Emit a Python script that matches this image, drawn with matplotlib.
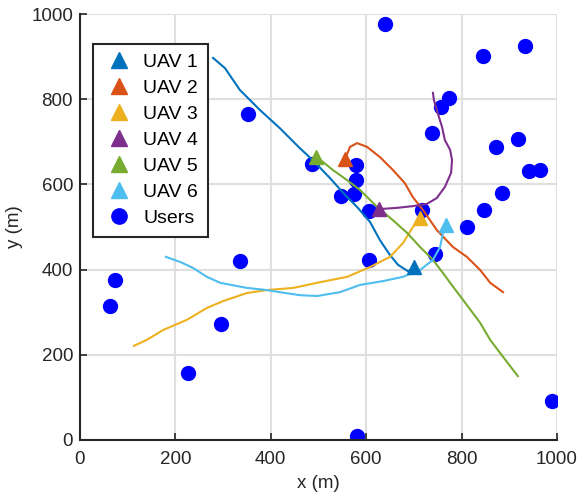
import matplotlib.pyplot as plt

plt.rcParams['font.family'] = ['Liberation Sans', 'DejaVu Sans']

# user positions (m)
users_x = [639, 933, 845, 774, 757, 739, 873, 918, 942, 965, 884, 846, 812, 716, 605,
           579, 579, 574, 548, 487, 605, 745, 353, 336, 74, 62, 295, 227, 581, 989]
users_y = [977, 925, 901, 803, 782, 721, 688, 706, 631, 635, 580, 540, 501, 541, 538,
           646, 610, 577, 573, 649, 422, 437, 765, 420, 375, 315, 272, 157, 9, 92]

# UAV trajectories, last point = final position
uav1_x = [279, 304, 335, 377, 419, 461, 488, 524, 556, 581, 608, 629, 650, 667, 688, 700]
uav1_y = [897, 873, 822, 775, 732, 685, 657, 615, 575, 547, 512, 469, 434, 411, 396, 405]

uav2_x = [887, 860, 839, 811, 782, 748, 719, 698, 681, 656, 629, 602, 581, 566, 556]
uav2_y = [347, 369, 399, 430, 453, 493, 540, 570, 603, 634, 664, 688, 697, 688, 660]

uav3_x = [113, 140, 174, 224, 266, 300, 350, 392, 447, 497, 560, 608, 650, 677, 698, 713]
uav3_y = [221, 235, 258, 282, 310, 326, 345, 352, 357, 369, 383, 406, 430, 462, 500, 521]

uav4_x = [740, 742, 748, 759, 765, 776, 780, 778, 765, 748, 727, 698, 665, 627]
uav4_y = [815, 798, 775, 735, 704, 681, 657, 627, 594, 568, 554, 549, 545, 542]

uav5_x = [918, 887, 860, 839, 803, 776, 761, 740, 713, 686, 656, 623, 587, 560, 530, 509, 495]
uav5_y = [150, 195, 235, 275, 329, 369, 392, 423, 453, 486, 516, 547, 587, 610, 634, 653, 664]

uav6_x = [180, 210, 237, 266, 294, 350, 392, 419, 461, 497, 545, 587, 635, 677, 713, 740, 755, 761, 767]
uav6_y = [430, 418, 404, 383, 369, 357, 352, 347, 340, 338, 347, 364, 373, 383, 399, 423, 453, 486, 505]

uav_x = [uav1_x, uav2_x, uav3_x, uav4_x, uav5_x, uav6_x]
uav_y = [uav1_y, uav2_y, uav3_y, uav4_y, uav5_y, uav6_y]
colors = ['#0072BD', '#D95319', '#EDB120', '#7E2F8E', '#77AC30', '#4DBEEE']

fig = plt.figure(figsize=(5.77, 4.92), dpi=100)
ax = fig.add_axes([0.1386, 0.1057, 0.8267, 0.8658])

handles = []
for i in range(6):
    ax.plot(uav_x[i], uav_y[i], color=colors[i], lw=1.5, zorder=3)
    h, = ax.plot(uav_x[i][-1], uav_y[i][-1], '^', color=colors[i], ms=10,
                 label='UAV %d' % (i + 1), zorder=4)
    handles.append(h)
hu, = ax.plot(users_x, users_y, 'o', color='#0000FF', ms=10, ls='none',
              label='Users', zorder=2)
handles.append(hu)

ax.set_xlim(0, 1000)
ax.set_ylim(0, 1000)
ax.set_xticks(range(0, 1001, 200))
ax.set_yticks(range(0, 1001, 200))
ax.grid(True, color='#DFDFDF', lw=1.5)
ax.set_axisbelow(True)
for s in ['top', 'right']:
    ax.spines[s].set_visible(False)
for s in ['left', 'bottom']:
    ax.spines[s].set_color('#262626')
    ax.spines[s].set_linewidth(1.5)
ax.tick_params(direction='in', length=5, width=1.2, colors='#262626',
               labelsize=13.5, top=False, right=False)
ax.tick_params(axis='x', pad=8)
ax.tick_params(axis='y', pad=5)
ax.set_xlabel('x (m)', fontsize=13.5, color='#262626', labelpad=5)
ax.set_ylabel('y (m)', fontsize=13.5, color='#262626', labelpad=6)

leg = ax.legend(handles=handles, loc='upper left', bbox_to_anchor=(0.027, 0.93),
                borderaxespad=0, fontsize=14, fancybox=False, framealpha=1,
                edgecolor='#262626', handlelength=1.7, handletextpad=0.4,
                borderpad=0.5, labelspacing=0.43, markerscale=1.1)
leg.get_frame().set_linewidth(1.5)

fig.savefig('out.png', dpi=100)
